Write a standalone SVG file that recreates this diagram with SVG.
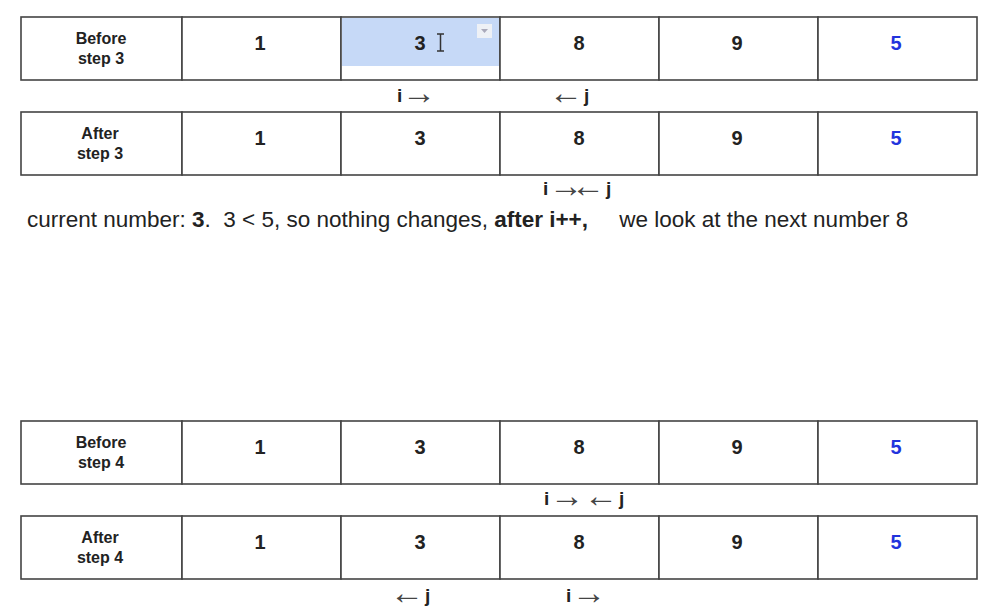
<svg xmlns="http://www.w3.org/2000/svg" width="994" height="613" viewBox="0 0 994 613">
<style>
.cell{fill:#fff;stroke:#444;stroke-width:1.6}
.lbl{font-family:"Liberation Sans",Arial,sans-serif;font-weight:bold;font-size:16px;fill:#222;text-anchor:middle}
.num{font-family:"Liberation Sans",Arial,sans-serif;font-weight:bold;font-size:20px;fill:#222;text-anchor:middle}
.blue{fill:#2233dd}
.ptr{font-family:"Liberation Sans",Arial,sans-serif;font-weight:bold;font-size:19px;fill:#222}
.arr{font-family:"Liberation Sans",Arial,sans-serif;font-weight:normal;font-size:34px;fill:#444}
.cap{font-family:"Liberation Sans",Arial,sans-serif;font-size:22.5px;fill:#222;white-space:pre}
</style>
<rect width="994" height="613" fill="#fff"/>
<g id="row1">
<rect class="cell" x="21" y="17" width="161" height="63"/>
<rect class="cell" x="182" y="17" width="159" height="63"/>
<rect class="cell" x="341" y="17" width="159" height="63"/>
<rect x="342" y="18" width="157" height="48" fill="#c6d9f7"/>
<rect x="477" y="24" width="15" height="14" fill="#eef1f6"/>
<path d="M481 29 L488 29 L484.5 33 Z" fill="#aab"/>
<rect class="cell" x="500" y="17" width="159" height="63"/>
<rect class="cell" x="659" y="17" width="159" height="63"/>
<rect class="cell" x="818" y="17" width="159" height="63"/>
<text class="lbl" x="101" y="44">Before</text>
<text class="lbl" x="101" y="64">step  3</text>
<text class="num" x="260" y="50">1</text>
<text class="num" x="420" y="50">3</text>
<path d="M437 34 L444 34 M440.5 34 L440.5 51 M437 51 L444 51" stroke="#333" stroke-width="1.5" fill="none"/>
<text class="num" x="579" y="50">8</text>
<text class="num" x="737" y="50">9</text>
<text class="num blue" x="896" y="50">5</text>
</g>
<g id="ptr1">
<text class="ptr" x="397" y="102">i<tspan class="arr" x="402" y="103.5">→</tspan></text>
<text class="ptr" x="549" y="102"><tspan class="arr" y="103.5">←</tspan><tspan x="584" y="102">j</tspan></text>
</g>
<g id="row2">
<rect class="cell" x="21" y="112" width="161" height="63"/>
<rect class="cell" x="182" y="112" width="159" height="63"/>
<rect class="cell" x="341" y="112" width="159" height="63"/>
<rect class="cell" x="500" y="112" width="159" height="63"/>
<rect class="cell" x="659" y="112" width="159" height="63"/>
<rect class="cell" x="818" y="112" width="159" height="63"/>
<text class="lbl" x="100" y="139">After</text>
<text class="lbl" x="100" y="159">step 3</text>
<text class="num" x="260" y="145">1</text>
<text class="num" x="420" y="145">3</text>
<text class="num" x="579" y="145">8</text>
<text class="num" x="737" y="145">9</text>
<text class="num blue" x="896" y="145">5</text>
</g>
<g id="ptr2">
<text class="ptr" x="543" y="195">i<tspan class="arr" x="549" y="196.5">→</tspan><tspan class="arr" x="571" y="196.5">←</tspan><tspan x="606" y="195">j</tspan></text>
</g>
<text class="cap" x="27" y="227" xml:space="preserve">current number: <tspan font-weight="bold">3</tspan>.  3 &lt; 5, so nothing changes, <tspan font-weight="bold">after i++,</tspan>     we look at the next number 8</text>
<g id="row3">
<rect class="cell" x="21" y="421" width="161" height="63"/>
<rect class="cell" x="182" y="421" width="159" height="63"/>
<rect class="cell" x="341" y="421" width="159" height="63"/>
<rect class="cell" x="500" y="421" width="159" height="63"/>
<rect class="cell" x="659" y="421" width="159" height="63"/>
<rect class="cell" x="818" y="421" width="159" height="63"/>
<text class="lbl" x="101" y="448">Before</text>
<text class="lbl" x="101" y="468">step  4</text>
<text class="num" x="260" y="454">1</text>
<text class="num" x="420" y="454">3</text>
<text class="num" x="579" y="454">8</text>
<text class="num" x="737" y="454">9</text>
<text class="num blue" x="896" y="454">5</text>
</g>
<g id="ptr3">
<text class="ptr" x="544" y="505">i<tspan class="arr" x="550" y="506.5">→</tspan><tspan class="arr" x="584" y="506.5">←</tspan><tspan x="619" y="505">j</tspan></text>
</g>
<g id="row4">
<rect class="cell" x="21" y="516" width="161" height="63"/>
<rect class="cell" x="182" y="516" width="159" height="63"/>
<rect class="cell" x="341" y="516" width="159" height="63"/>
<rect class="cell" x="500" y="516" width="159" height="63"/>
<rect class="cell" x="659" y="516" width="159" height="63"/>
<rect class="cell" x="818" y="516" width="159" height="63"/>
<text class="lbl" x="100" y="543">After</text>
<text class="lbl" x="100" y="563">step 4</text>
<text class="num" x="260" y="549">1</text>
<text class="num" x="420" y="549">3</text>
<text class="num" x="579" y="549">8</text>
<text class="num" x="737" y="549">9</text>
<text class="num blue" x="896" y="549">5</text>
</g>
<g id="ptr4">
<text class="ptr" x="390" y="602"><tspan class="arr" y="603.5">←</tspan><tspan x="425" y="602">j</tspan></text>
<text class="ptr" x="566" y="602">i<tspan class="arr" x="572" y="603.5">→</tspan></text>
</g>
</svg>
